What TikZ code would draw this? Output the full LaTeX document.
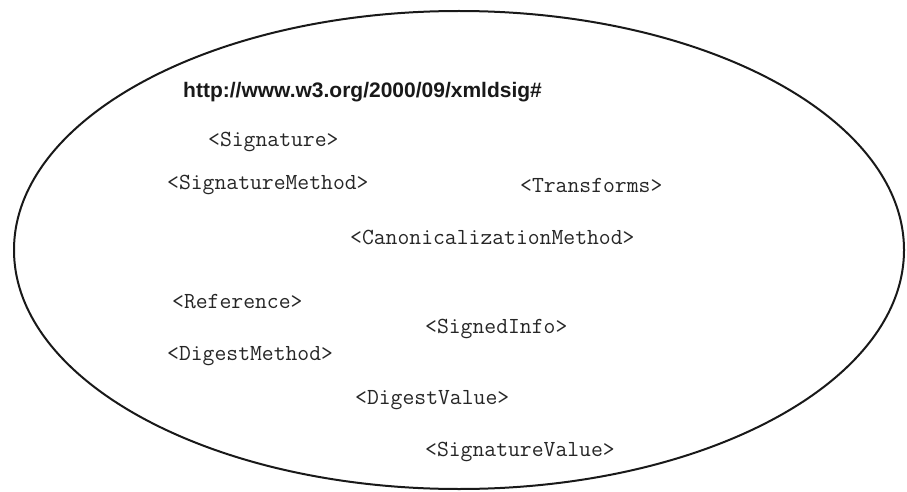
\documentclass[tikz,border=0pt]{standalone}
\usepackage{fontspec}
\setmainfont{Liberation Serif}
\newfontfamily\hdrfont{Liberation Sans}
\begin{document}
\begin{tikzpicture}[x=1pt,y=-1pt,
  xml/.style={anchor=west,inner sep=0pt,font=\ttfamily\fontsize{23}{26}\selectfont,text=black!85},
  hdr/.style={anchor=west,inner sep=0pt,font=\hdrfont\bfseries\fontsize{21}{24}\selectfont,text=black!90}]
\useasboundingbox (0,0) rectangle (907,492);
\draw[line width=2pt,black!90] (459,250) ellipse [x radius=445, y radius=239];
\node[hdr] (ns) at (183,92) {http://www.w3.org/2000/09/xmldsig\#};
\node[xml] (sig) at (208,142) {<Signature>};
\node[xml] (sm) at (167,185) {<SignatureMethod>};
\node[xml] (tr) at (520,185) {<Transforms>};
\node[xml] (cm) at (350,237) {<CanonicalizationMethod>};
\node[xml] (ref) at (172,302) {<Reference>};
\node[xml] (si) at (425,329) {<SignedInfo>};
\node[xml] (dm) at (167,356) {<DigestMethod>};
\node[xml] (dv) at (355,400) {<DigestValue>};
\node[xml] (sv) at (425,452) {<SignatureValue>};
\end{tikzpicture}
\end{document}
